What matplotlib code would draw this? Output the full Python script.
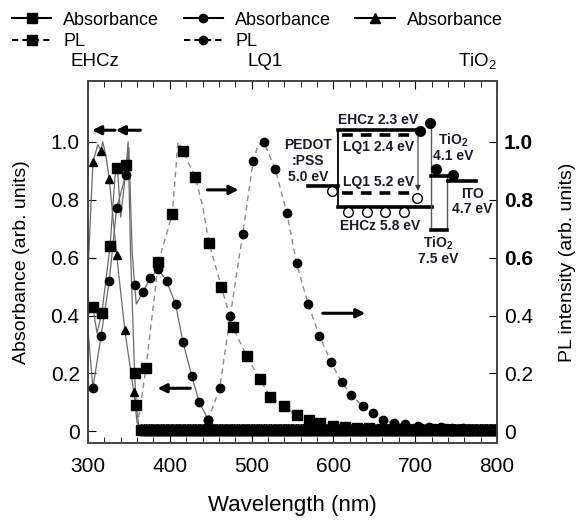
import numpy as np
import matplotlib
matplotlib.use('Agg')
import matplotlib.pyplot as plt
from matplotlib.lines import Line2D
from matplotlib.ticker import MultipleLocator, FixedLocator

plt.rcParams['font.family'] = ['Liberation Sans', 'DejaVu Sans']
plt.rcParams['mathtext.fontset'] = 'custom'
plt.rcParams['mathtext.rm'] = 'Liberation Sans'
plt.rcParams['mathtext.bf'] = 'Liberation Sans:bold'

# ---------------- data ----------------
# EHCz absorbance (solid, squares)
ehcz_abs_line_x = [300, 306, 311, 317, 327, 333, 336, 340, 347, 349, 352, 357, 359, 362, 365]
ehcz_abs_line_y = [0.40, 0.43, 0.34, 0.41, 0.64, 0.88, 0.91, 0.74, 0.92, 1.00, 0.62, 0.20, 0.09, 0.02, 0.008]
ehcz_abs_mark_x = [306, 317, 327, 336, 347, 357, 359]
ehcz_abs_mark_y = [0.43, 0.41, 0.64, 0.91, 0.92, 0.20, 0.09]
ehcz_abs_tail_level = 0.006

# LQ1 absorbance (solid, circles)
lq1_abs_line_x = [300, 306, 316, 326, 335, 346, 350, 354, 357, 359, 367, 376, 386, 396, 407, 416, 427, 436, 447, 458, 470]
lq1_abs_line_y = [0.35, 0.15, 0.33, 0.52, 0.77, 0.885, 0.98, 0.62, 0.505, 0.44, 0.48, 0.53, 0.56, 0.52, 0.44, 0.31, 0.19, 0.10, 0.04, 0.012, 0.006]
lq1_abs_mark_x = [306, 316, 326, 335, 346, 357, 367, 376, 386, 396, 407, 416, 427, 436, 447]
lq1_abs_mark_y = [0.15, 0.33, 0.52, 0.77, 0.885, 0.505, 0.48, 0.53, 0.56, 0.52, 0.44, 0.31, 0.19, 0.10, 0.04]

# TiO2 absorbance (solid, triangles)
tio2_abs_line_x = [300, 306, 312, 316, 318, 322, 326, 335, 345, 356, 360, 364]
tio2_abs_line_y = [0.55, 0.93, 0.99, 0.97, 1.00, 0.95, 0.87, 0.61, 0.35, 0.135, 0.03, 0.012]
tio2_abs_mark_x = [306, 316, 326, 335, 345, 356]
tio2_abs_mark_y = [0.93, 0.97, 0.87, 0.61, 0.35, 0.135]
tio2_abs_tail_level = 0.012

# EHCz PL (dashed, squares)
ehcz_pl_x = [362, 371, 386, 403, 410, 416, 424, 431, 440, 448, 463, 477, 494, 510, 523, 539,
             555, 570, 584, 599, 614, 629, 644, 659, 674, 689, 704, 719, 734, 749, 764, 779, 794]
ehcz_pl_y = [0.05, 0.22, 0.585, 0.75, 1.00, 0.97, 0.92, 0.88, 0.78, 0.65, 0.50, 0.36, 0.26, 0.18, 0.12, 0.087,
             0.055, 0.038, 0.028, 0.020, 0.016, 0.013, 0.011, 0.010, 0.009, 0.008, 0.008, 0.007, 0.007, 0.006, 0.006, 0.006, 0.006]
ehcz_pl_no_marker = [362, 410, 424, 440]

# LQ1 PL (dashed, circles)
lq1_pl_x = [440, 447, 461, 474, 489, 502, 508, 515, 529, 543, 555, 569, 583, 597, 610, 622,
            636, 648, 661, 674, 688, 703, 717, 731, 745, 759, 773, 787, 800]
lq1_pl_y = [0.01, 0.04, 0.15, 0.40, 0.68, 0.935, 0.99, 1.00, 0.905, 0.755, 0.58, 0.44, 0.33, 0.24, 0.17, 0.125,
            0.087, 0.062, 0.041, 0.028, 0.024, 0.020, 0.016, 0.014, 0.012, 0.011, 0.010, 0.010, 0.010]
lq1_pl_no_marker = [440, 508]

xticks = [300, 400, 500, 600, 700, 800]
yticks = [0, 0.2, 0.4, 0.6, 0.8, 1.0]
yticklabels = ['0', '0.2', '0.4', '0.6', '0.8', '1.0']
right_bold = ['0.6', '0.8', '1.0']

# ---------------- figure ----------------
W, H = 580, 521
fig = plt.figure(figsize=(W / 100, H / 100), dpi=100)
ax = fig.add_axes([88 / W, 1 - 443 / H, (497 - 88) / W, (443 - 81) / H])
ax.set_xlim(300, 800)
ax.set_ylim(-0.04, 1.21)

LC = '#6a6a6a'
tail_x = np.arange(365, 801, 3)

# lines
ax.plot(ehcz_abs_line_x + list(tail_x), ehcz_abs_line_y + [ehcz_abs_tail_level] * len(tail_x),
        color=LC, lw=0.9, zorder=2)
ax.plot(lq1_abs_line_x, lq1_abs_line_y, color=LC, lw=0.9, zorder=2)
ax.plot(tio2_abs_line_x + list(tail_x), tio2_abs_line_y + [tio2_abs_tail_level] * len(tail_x),
        color=LC, lw=0.9, zorder=2)
ax.plot(ehcz_pl_x, ehcz_pl_y, color='#8a8a8a', lw=1.0, ls=(0, (4, 3)), zorder=2)
ax.plot(lq1_pl_x, lq1_pl_y, color='#8a8a8a', lw=1.0, ls=(0, (4, 3)), zorder=2)

# markers
ax.plot(tail_x, [tio2_abs_tail_level] * len(tail_x), ls='none', marker='^', ms=6, color='k', zorder=3)
ax.plot(tail_x, [ehcz_abs_tail_level] * len(tail_x), ls='none', marker='s', ms=7, color='k', zorder=3)
ax.plot(ehcz_abs_mark_x, ehcz_abs_mark_y, ls='none', marker='s', ms=7.5, color='k', zorder=4)
ax.plot(lq1_abs_mark_x, lq1_abs_mark_y, ls='none', marker='o', ms=6, color='k', zorder=4)
ax.plot(tio2_abs_mark_x, tio2_abs_mark_y, ls='none', marker='^', ms=6, color='k', zorder=4)
epx = [x for x in ehcz_pl_x if x not in ehcz_pl_no_marker]
epy = [y for x, y in zip(ehcz_pl_x, ehcz_pl_y) if x not in ehcz_pl_no_marker]
ax.plot(epx, epy, ls='none', marker='s', ms=7.5, color='k', zorder=4)
lpx = [x for x in lq1_pl_x if x not in lq1_pl_no_marker]
lpy = [y for x, y in zip(lq1_pl_x, lq1_pl_y) if x not in lq1_pl_no_marker]
ax.plot(lpx, lpy, ls='none', marker='o', ms=6, color='k', zorder=4)

# arrows
arrows = [((333, 1.04), (305, 1.04)), ((364, 1.04), (334, 1.04)),
          ((446, 0.834), (484, 0.834)), ((587, 0.408), (639, 0.408)),
          ((425, 0.149), (385, 0.149))]
for (x0, y0), (x1, y1) in arrows:
    ax.annotate('', xy=(x1, y1), xytext=(x0, y0),
                arrowprops=dict(arrowstyle='-|>', lw=2.2, color='k', mutation_scale=13,
                                shrinkA=0, shrinkB=0), zorder=5)

# axes styling
ax.xaxis.set_major_locator(FixedLocator(xticks))
ax.xaxis.set_minor_locator(MultipleLocator(20))
ax.set_yticks(yticks)
ax.set_yticklabels(yticklabels)
ax.tick_params(axis='both', which='both', direction='in', top=True, labelsize=15, pad=6)
ax.tick_params(axis='x', which='major', length=6, pad=10)
ax.tick_params(axis='x', which='minor', length=4)
ax.tick_params(axis='y', which='major', length=6)
ax.set_xlabel('Wavelength (nm)', fontsize=16, labelpad=14)
ax.set_ylabel('Absorbance (arb. units)', fontsize=14, labelpad=14.5)
for s in ax.spines.values():
    s.set_linewidth(1.2)
    s.set_color('#444444')

ax2 = ax.twinx()
ax2.set_ylim(ax.get_ylim())
ax2.set_yticks(yticks)
ax2.set_yticklabels(yticklabels)
for lab in ax2.get_yticklabels():
    if lab.get_text() in right_bold:
        lab.set_fontweight('bold')
ax2.tick_params(axis='y', direction='in', labelsize=15, length=6, pad=5)
ax2.set_ylabel('PL intensity (arb. units)', fontsize=14, labelpad=18.5)
for s in ax2.spines.values():
    s.set_linewidth(1.2)
    s.set_color('#444444')

# legend
handles = [
    Line2D([], [], color='k', lw=1.5, marker='s', ms=7),
    Line2D([], [], color='k', lw=1.5, ls=(0, (3, 2)), marker='s', ms=7),
    Line2D([], [], color='k', lw=1.5, marker='o', ms=6),
    Line2D([], [], color='k', lw=1.5, ls=(0, (3, 2)), marker='o', ms=6),
    Line2D([], [], color='k', lw=1.5, marker='^', ms=7),
]
labels = ['Absorbance', 'PL', 'Absorbance', 'PL', 'Absorbance']
fig.legend(handles, labels, ncol=3, loc='upper left', bbox_to_anchor=(0.0, 1.0),
           frameon=False, fontsize=13, handlelength=2.2, handletextpad=0.65,
           columnspacing=1.35, labelspacing=0.25, borderpad=0.15)
fig.text(95 / W, 1 - 62 / H, 'EHCz', ha='center', va='center', fontsize=13.5)
fig.text(265 / W, 1 - 62 / H, 'LQ1', ha='center', va='center', fontsize=13.5)
fig.text(478 / W, 1 - 62 / H, 'TiO$_2$', ha='center', va='center', fontsize=13.5)

# ---------------- energy-level inset (schematic, pixel layout) ----------------
ad = fig.add_axes([0, 0, 1, 1], zorder=10)
ad.set_xlim(0, W)
ad.set_ylim(H, 0)
ad.axis('off')
ad.patch.set_alpha(0)

BL = 2.6
ad.plot([338, 423], [130, 130], color='k', lw=BL)          # EHCz LUMO
ad.plot([338, 432], [207, 207], color='k', lw=BL)          # EHCz HOMO
ad.plot([338, 338], [130, 207], color='k', lw=1.3)
ad.plot([342, 417], [135, 135], color='k', lw=BL, ls=(0, (3, 2.2)))  # LQ1 LUMO
ad.plot([342, 417], [193, 193], color='k', lw=BL, ls=(0, (3, 2.2)))  # LQ1 HOMO
ad.plot([308, 338], [186, 186], color='k', lw=BL)          # PEDOT
ad.plot([431, 431], [123, 230], color='#555555', lw=1.0)
ad.plot([447, 447], [176, 230], color='#555555', lw=1.0)
ad.plot([431, 448], [176, 176], color='k', lw=BL)          # TiO2 CB
ad.plot([431, 447], [230, 230], color='k', lw=BL)          # TiO2 VB
ad.plot([448, 476], [181, 181], color='k', lw=BL)          # ITO
ad.annotate('', xy=(418, 191), xytext=(418, 135),
            arrowprops=dict(arrowstyle='-|>', lw=0.8, color='#333333', mutation_scale=8,
                            shrinkA=0, shrinkB=0))
for cx, cy in [(332, 191), (417, 198), (348, 212), (367, 212), (385, 212), (404, 212)]:
    ad.plot(cx, cy, marker='o', ms=7, mfc='white', mec='k', mew=1.0)
for cx, cy in [(420, 131), (430, 123), (436, 169), (453, 175)]:
    ad.plot(cx, cy, marker='o', ms=7, color='k')

tk = dict(fontsize=10, fontweight='bold', color='#1a1a2e', va='center')
ad.text(378, 120, 'EHCz 2.3 eV', ha='center', **tk)
ad.text(343, 147, 'LQ1 2.4 eV', ha='left', **tk)
ad.text(308, 145, 'PEDOT', ha='center', **tk)
ad.text(308, 161, ':PSS', ha='center', **tk)
ad.text(308, 177, '5.0 eV', ha='center', **tk)
ad.text(343, 182, 'LQ1 5.2 eV', ha='left', **tk)
ad.text(380, 226, 'EHCz 5.8 eV', ha='center', **tk)
ad.text(453, 140, r'TiO$_\mathbf{2}$', ha='center', **tk)
ad.text(453, 156, '4.1 eV', ha='center', **tk)
ad.text(472, 194, 'ITO', ha='center', **tk)
ad.text(472, 209, '4.7 eV', ha='center', **tk)
ad.text(438, 243, r'TiO$_\mathbf{2}$', ha='center', **tk)
ad.text(438, 259, '7.5 eV', ha='center', **tk)

fig.savefig('out.png', dpi=100)
